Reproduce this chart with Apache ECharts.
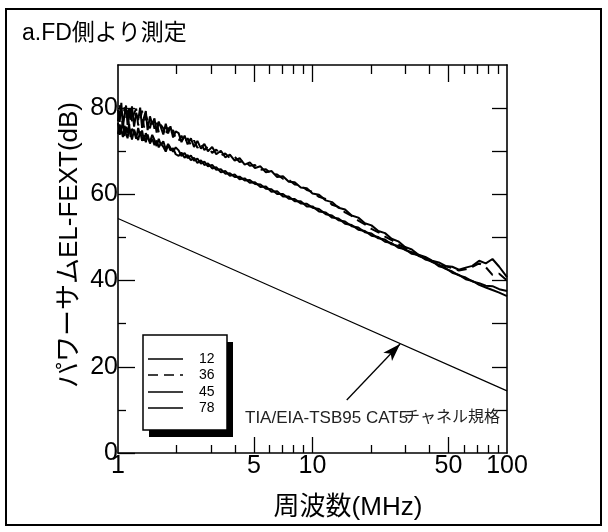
<!DOCTYPE html>
<html>
<head>
<meta charset="utf-8">
<script src="https://cdn.jsdelivr.net/npm/echarts@6/dist/echarts.min.js"></script>
<style>
  html, body { margin: 0; padding: 0; background: #fff; }
  #chart { width: 608px; height: 532px; }
</style>
</head>
<body>
<div id="chart"></div>
<script>
// Sweep frequencies (MHz)
const freqMHz = [
  1.00, 1.02, 1.04, 1.06, 1.08, 1.10, 1.12, 1.14, 1.16, 1.18,
  1.21, 1.24, 1.27, 1.30, 1.33, 1.36, 1.39, 1.42, 1.46, 1.50,
  1.54, 1.58, 1.62, 1.66, 1.71, 1.76, 1.81, 1.86, 1.92, 1.98,
  2.05, 2.12, 2.20, 2.28, 2.37, 2.46, 2.56, 2.67, 2.78, 2.90,
  3.05, 3.20, 3.38, 3.56, 3.76, 3.98, 4.22, 4.48, 4.76, 5.06,
  5.40, 5.76, 6.15, 6.58, 7.05, 7.55, 8.10, 8.70, 9.35, 10.0,
  10.8, 11.7, 12.6, 13.6, 14.7, 15.9, 17.2, 18.6, 20.1, 21.8,
  23.6, 25.5, 27.6, 29.9, 32.4, 35.1, 38.0, 41.2, 44.6, 48.3,
  52.3, 56.6, 61.3, 66.4, 71.9, 77.8, 84.2, 91.2, 100
];

// Power-sum ELFEXT (dB), one list per pair
const pair12 = [
  79.6, 76.8, 81.2, 75.9, 78.4, 80.6, 76.1, 79.8, 77.3, 80.4,
  75.7, 78.9, 77.2, 80.1, 75.4, 77.8, 79.3, 74.9, 78.1, 76.2,
  77.6, 74.3, 76.9, 75.6, 73.9, 76.4, 74.1, 75.8, 73.2, 74.6,
  74.2, 72.1, 73.6, 71.6, 73.0, 71.0, 72.4, 70.6, 71.7, 70.0,
  71.0, 69.3, 70.1, 68.6, 69.2, 67.8, 68.4, 66.9, 67.4, 66.1,
  66.5, 65.1, 65.4, 64.0, 64.2, 62.9, 62.8, 61.6, 61.4, 60.2,
  59.9, 58.6, 58.2, 56.9, 56.5, 55.1, 54.6, 53.3, 52.8, 51.5,
  51.0, 49.7, 49.1, 47.8, 47.2, 46.0, 45.5, 44.6, 44.2, 43.4,
  43.2, 42.5, 43.0, 43.4, 44.6, 44.0, 45.0, 43.2, 40.8
];
const pair36 = [
  77.0, 80.7, 77.9, 76.3, 80.2, 77.6, 79.5, 75.8, 80.3, 76.9,
  78.8, 79.9, 76.0, 77.4, 79.4, 75.5, 78.3, 77.1, 75.3, 77.7,
  75.2, 76.8, 74.4, 76.1, 75.3, 73.6, 75.5, 73.8, 74.9, 72.9,
  72.4, 73.6, 71.9, 73.0, 71.4, 72.5, 70.8, 71.8, 70.3, 71.1,
  69.6, 70.4, 69.0, 69.5, 68.4, 68.7, 67.5, 67.8, 66.6, 66.8,
  65.7, 65.8, 64.8, 64.6, 63.6, 63.4, 62.3, 62.1, 61.0, 60.6,
  59.4, 58.9, 57.6, 57.1, 55.8, 55.0, 53.9, 53.0, 52.0, 51.2,
  50.2, 49.4, 48.4, 47.6, 46.8, 45.9, 45.2, 44.5, 43.9, 43.3,
  42.9, 42.3, 42.6, 43.2, 44.0, 43.1, 41.3, 41.6, 40.0
];
const pair45 = [
  76.6, 73.8, 75.1, 76.9, 73.5, 75.7, 74.2, 76.3, 73.3, 75.2,
  74.6, 72.9, 75.4, 73.6, 74.8, 72.4, 74.2, 73.1, 72.2, 73.8,
  72.6, 71.2, 72.9, 71.5, 72.3, 70.4, 71.7, 70.8, 69.9, 70.9,
  70.2, 68.9, 69.6, 68.4, 69.0, 67.8, 68.3, 67.1, 67.6, 66.5,
  66.8, 65.7, 65.8, 64.8, 64.9, 64.0, 64.1, 63.2, 63.3, 62.4,
  62.3, 61.3, 61.2, 60.1, 60.1, 59.0, 58.9, 57.9, 57.8, 56.9,
  56.6, 55.4, 55.1, 54.0, 53.7, 52.6, 52.3, 51.2, 50.9, 49.8,
  49.5, 48.4, 48.0, 47.1, 46.6, 45.7, 45.2, 44.3, 43.7, 42.7,
  42.1, 41.2, 40.7, 39.8, 39.4, 38.8, 38.7, 38.0, 37.6
];
const pair78 = [
  74.0, 76.2, 74.8, 73.3, 75.9, 74.1, 73.0, 75.4, 74.3, 72.7,
  75.0, 73.5, 72.6, 74.6, 72.4, 73.7, 72.1, 73.9, 71.8, 72.9,
  71.4, 72.5, 70.9, 71.8, 71.0, 69.9, 71.4, 70.2, 70.7, 69.3,
  68.9, 69.7, 68.5, 69.1, 67.9, 68.5, 67.3, 67.9, 66.8, 67.2,
  66.0, 66.3, 65.1, 65.4, 64.3, 64.6, 63.5, 63.7, 62.7, 62.8,
  61.7, 61.8, 60.6, 60.7, 59.5, 59.5, 58.4, 58.4, 57.2, 57.2,
  56.0, 55.8, 54.6, 54.4, 53.2, 52.9, 51.8, 51.5, 50.4, 50.1,
  49.0, 48.7, 47.6, 47.3, 46.2, 45.9, 44.9, 44.5, 43.3, 42.9,
  41.8, 41.3, 40.3, 39.9, 39.0, 38.4, 37.8, 37.2, 36.4
];

// Channel limit line
const limitFreq = [1, 10, 100];
const limitDb = [54.4, 34.4, 14.4];

// Arrow pointing at the limit line: [freq, dB] tail and head
const arrowTail = [15.0, 12.3];
const arrowHead = [28.2, 25.3];

const pairNames = ['12', '36', '45', '78'];
const pairValues = [pair12, pair36, pair45, pair78];
const pairDash = ['solid', [10, 6], 'solid', 'solid'];

// Tick positions
const xLabelTicks = [1, 5, 10, 50, 100];
const xMajorTicks = [5, 10, 50];
const xMinorTicks = [2, 3, 4, 6, 7, 8, 9, 20, 30, 40, 60, 70, 80, 90];
const yLabelTicks = [0, 20, 40, 60, 80];
const yMinorTicks = [10, 30, 50, 70];
const yRightTicks = [10, 20, 30, 40, 50, 60, 70, 80];

const FONT = '"Liberation Sans", Arial, "Noto Sans CJK JP", sans-serif';
const BLACK = '#000';

const chart = echarts.init(document.getElementById('chart'), null, { renderer: 'canvas' });

function xAxisDef(position, ticks, len, showLine, labels) {
  return {
    type: 'log', logBase: 10, min: 1, max: 100, position: position,
    axisLine: { show: showLine, onZero: false, lineStyle: { color: BLACK, width: 1.6 } },
    axisTick: { show: true, inside: true, length: len, customValues: ticks,
                lineStyle: { color: BLACK, width: 1.3 } },
    axisLabel: labels ? { show: true, customValues: labels, margin: 1, fontSize: 25,
                          color: BLACK, fontFamily: FONT } : { show: false },
    splitLine: { show: false }, minorTick: { show: false }
  };
}
function yAxisDef(position, ticks, len, showLine, labels) {
  return {
    type: 'value', min: 0, max: 90, position: position,
    axisLine: { show: showLine, onZero: false, lineStyle: { color: BLACK, width: 1.6 } },
    axisTick: { show: true, inside: true, length: len, customValues: ticks,
                lineStyle: { color: BLACK, width: 1.3 } },
    axisLabel: labels ? { show: true, customValues: labels, margin: 0, fontSize: 25,
                          color: BLACK, fontFamily: FONT } : { show: false },
    splitLine: { show: false }
  };
}

const series = pairNames.map((name, k) => ({
  name: name,
  type: 'line',
  xAxisIndex: 0, yAxisIndex: 0,
  symbol: 'none',
  smooth: false,
  lineStyle: { color: BLACK, width: 2, type: pairDash[k] },
  data: freqMHz.map((f, i) => [f, pairValues[k][i]]),
  z: 3
}));

series.push({
  name: 'limit',
  type: 'line',
  xAxisIndex: 0, yAxisIndex: 0,
  symbol: 'none',
  lineStyle: { color: BLACK, width: 1.2 },
  data: limitFreq.map((f, i) => [f, limitDb[i]]),
  markLine: {
    silent: true,
    animation: false,
    label: { show: false },
    lineStyle: { color: BLACK, width: 1.3, type: 'solid' },
    data: [[
      { coord: arrowTail, symbol: 'none' },
      { coord: arrowHead, symbol: 'arrow', symbolSize: [9, 18] }
    ]]
  }
});

// Legend box built from the pair names and dash styles
const legendLeft = 143, legendTop = 335, legendRowY = [359, 375, 392, 408];
const legendItems = [];
pairNames.forEach((name, k) => {
  legendItems.push({
    type: 'line', z: 110,
    shape: { x1: 148, y1: legendRowY[k], x2: 183, y2: legendRowY[k] },
    style: { stroke: BLACK, lineWidth: 1.5, lineDash: pairDash[k] === 'solid' ? null : pairDash[k] }
  });
  legendItems.push({
    type: 'text', x: 199, y: legendRowY[k], z: 110,
    style: { text: name, fill: BLACK, font: '14px ' + FONT, verticalAlign: 'middle' }
  });
});

const option = {
  animation: false,
  backgroundColor: '#fff',
  grid: { left: 118, right: 101, top: 65, bottom: 79, containLabel: false },
  xAxis: [
    xAxisDef('bottom', xMajorTicks, 16, true, xLabelTicks),
    xAxisDef('bottom', xMinorTicks, 8, false, null),
    xAxisDef('top', xMajorTicks, 17, true, null),
    xAxisDef('top', xMinorTicks, 9, false, null)
  ],
  yAxis: [
    yAxisDef('left', yLabelTicks, 17, true, yLabelTicks),
    yAxisDef('left', yMinorTicks, 8, false, null),
    yAxisDef('right', yRightTicks, 15, true, null)
  ],
  series: series,
  graphic: [
    { type: 'rect', shape: { x: 6, y: 9, width: 595, height: 516 },
      style: { fill: null, stroke: BLACK, lineWidth: 2 }, z: 100 },
    { type: 'text', x: 22, y: 22,
      style: { text: 'a.FD側より測定', fill: BLACK, font: '23px ' + FONT } , z: 100},
    { type: 'text', x: 70, y: 245, rotation: Math.PI / 2,
      style: { text: 'パワーサムEL-FEXT(dB)', fill: BLACK, font: '26px ' + FONT,
               align: 'center', verticalAlign: 'middle' }, z: 100 },
    { type: 'text', x: 348, y: 508,
      style: { text: '周波数(MHz)', fill: BLACK, font: '26px ' + FONT,
               align: 'center', verticalAlign: 'middle' }, z: 100 },
    { type: 'text', x: 245, y: 418,
      style: { text: 'TIA/EIA-TSB95 CAT5', fill: '#222', font: '17px ' + FONT,
               verticalAlign: 'middle' }, z: 100 },
    { type: 'text', x: 404, y: 418,
      style: { text: 'チャネル規格', fill: '#222', font: '16px ' + FONT,
               verticalAlign: 'middle' }, z: 100 },
    { type: 'rect', shape: { x: legendLeft + 6, y: legendTop + 7, width: 84, height: 95 },
      style: { fill: BLACK }, z: 100 },
    { type: 'rect', shape: { x: legendLeft, y: legendTop, width: 84, height: 95 },
      style: { fill: '#fff', stroke: BLACK, lineWidth: 1.5 }, z: 101 },
    { type: 'group', children: legendItems, z: 102 }
  ]
};

chart.setOption(option);
</script>
</body>
</html>
